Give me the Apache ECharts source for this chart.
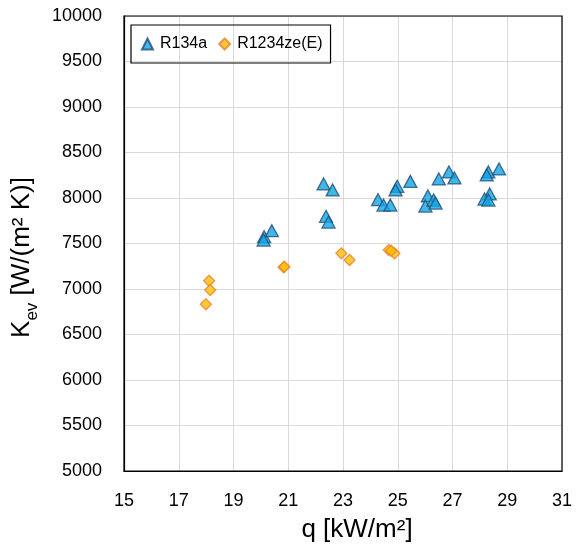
<!DOCTYPE html>
<html>
<head>
<meta charset="utf-8">
<script src="https://cdn.jsdelivr.net/npm/echarts@6/dist/echarts.min.js"></script>
<style>html,body{margin:0;padding:0;background:#fff}#c{width:576px;height:550px}</style>
</head>
<body>
<div id="c"></div>
<script>
// R134a: [q kW/m2, Kev W/(m2 K)]
const r134aQ = [20.12, 20.10, 20.40, 22.29, 22.62, 22.38, 22.47, 24.28, 24.48, 24.73, 24.98, 24.92, 25.46, 26.10, 26.01, 26.31, 26.38, 26.50, 26.87, 27.07, 28.31, 28.25, 28.70, 28.36, 28.17, 28.31];
const r134aK = [7575, 7538, 7641, 8154, 8088, 7799, 7736, 7981, 7923, 7923, 8129, 8088, 8183, 8022, 7912, 7978, 7945, 8209, 8286, 8220, 8286, 8253, 8319, 8044, 7989, 7978];
// R1234ze(E)
const rzeQ = [18.11, 18.15, 17.99, 20.83, 20.86, 22.94, 23.24, 24.67, 24.88, 24.76];
const rzeK = [7091, 6989, 6832, 7238, 7245, 7392, 7319, 7428, 7392, 7420];
const xTicks = [15, 17, 19, 21, 23, 25, 27, 29, 31];
const yTicks = [5000, 5500, 6000, 6500, 7000, 7500, 8000, 8500, 9000, 9500, 10000];

const chart = echarts.init(document.getElementById('c'), null, {renderer: 'canvas'});
const font = 'Liberation Sans, Arial, sans-serif';
chart.setOption({
  animation: false,
  textStyle: {fontFamily: font},
  grid: {left: 124, right: 14, top: 16, bottom: 79, containLabel: false},
  legend: {
    left: 131, top: 25, orient: 'horizontal',
    borderColor: '#000', borderWidth: 1.2, padding: [11, 8, 11, 10],
    itemWidth: 11, itemHeight: 11, itemGap: 11,
    textStyle: {fontSize: 16, color: '#000', fontFamily: font, padding: [0, 0, 0, 2]},
    data: [{name: 'R134a', icon: 'triangle'}, {name: 'R1234ze(E)', icon: 'diamond'}]
  },
  xAxis: {
    type: 'value', min: xTicks[0], max: xTicks[xTicks.length - 1], interval: 2,
    name: 'q [kW/m²]', nameLocation: 'middle', nameGap: 46,
    nameTextStyle: {fontSize: 26, color: '#000', fontFamily: font, padding: [0, 0, 0, 28]},
    axisLine: {show: true, onZero: false, lineStyle: {color: '#000', width: 1.2}},
    axisTick: {show: false},
    axisLabel: {fontSize: 18, color: '#000', margin: 21, fontFamily: font},
    splitLine: {show: true, lineStyle: {color: '#D9D9D9', width: 1}}
  },
  yAxis: {
    type: 'value', min: yTicks[0], max: yTicks[yTicks.length - 1], interval: 500,
    name: '{m|K}{s|ev}{m| [W/(m² K)]}', nameLocation: 'middle', nameGap: 79, nameRotate: 90,
    nameTextStyle: {
      fontSize: 26, color: '#000', fontFamily: font, padding: [0, 28, 0, 0],
      rich: {
        m: {fontSize: 26, color: '#000', fontFamily: font, lineHeight: 30, verticalAlign: 'bottom'},
        s: {fontSize: 17, color: '#000', fontFamily: font, lineHeight: 22, verticalAlign: 'bottom', padding: [0, 0, -6, 0]}
      }
    },
    axisLine: {show: true, onZero: false, lineStyle: {color: '#000', width: 1.2}},
    axisTick: {show: false},
    axisLabel: {fontSize: 18, color: '#000', margin: 22, fontFamily: font, formatter: v => String(v)},
    splitLine: {show: true, lineStyle: {color: '#D9D9D9', width: 1}}
  },
  series: [
    {
      name: 'R134a', type: 'scatter', symbol: 'triangle', symbolSize: [13, 12],
      itemStyle: {color: '#12A5E3', borderColor: '#1F4E79', borderWidth: 1.3},
      data: r134aQ.map((q, i) => [q, r134aK[i]])
    },
    {
      name: 'R1234ze(E)', type: 'scatter', symbol: 'diamond', symbolSize: [11, 11],
      itemStyle: {color: '#FFC000', borderColor: '#ED7D31', borderWidth: 1.3},
      data: rzeQ.map((q, i) => [q, rzeK[i]])
    }
  ],
  graphic: [{
    type: 'rect', shape: {x: 124, y: 16, width: 438, height: 455},
    style: {fill: 'none', stroke: '#000', lineWidth: 1.2}, silent: true, z: 10
  }]
});
</script>
</body>
</html>
